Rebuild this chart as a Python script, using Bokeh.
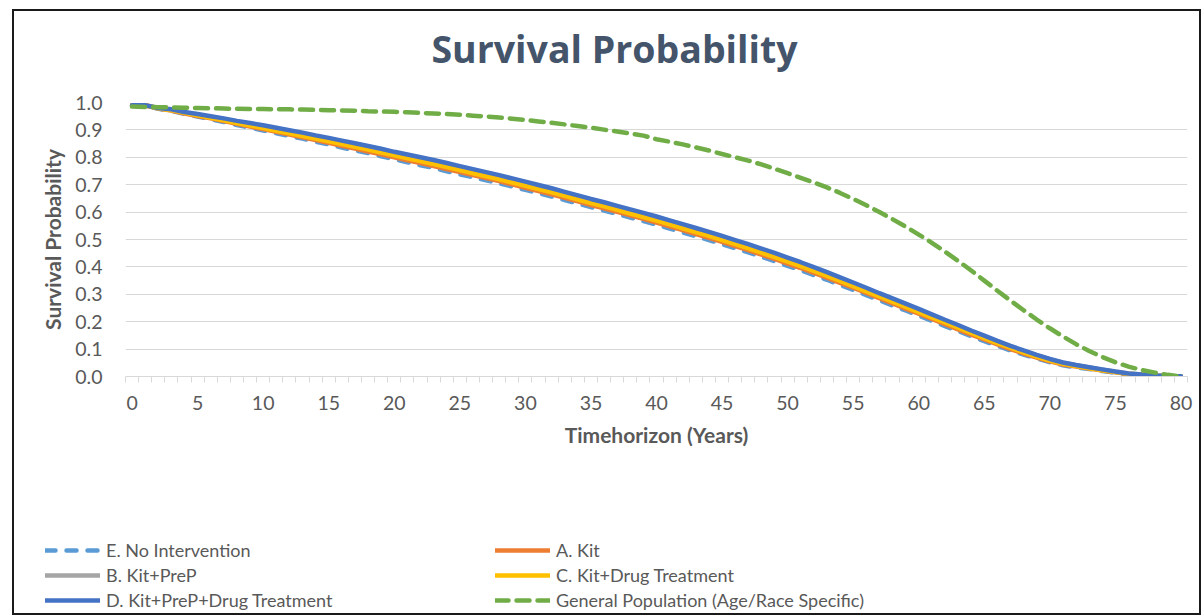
from bokeh.plotting import figure
from bokeh.layouts import column
from bokeh.models import (FixedTicker, NumeralTickFormatter, Legend, LegendItem, Range1d, Label)
from bokeh.embed import file_html
from bokeh.resources import INLINE

years = list(range(0, 81))

no_intervention = [0.99, 0.99, 0.977, 0.970, 0.958, 0.949, 0.939, 0.929, 0.918, 0.908,
    0.898, 0.888, 0.878, 0.868, 0.857, 0.847, 0.836, 0.825, 0.815, 0.804,
    0.793, 0.782, 0.771, 0.761, 0.749, 0.738, 0.727, 0.716, 0.705, 0.693,
    0.681, 0.669, 0.657, 0.644, 0.631, 0.618, 0.606, 0.593, 0.580, 0.567,
    0.554, 0.540, 0.526, 0.512, 0.498, 0.483, 0.468, 0.453, 0.437, 0.421,
    0.404, 0.388, 0.370, 0.353, 0.334, 0.316, 0.297, 0.278, 0.259, 0.241,
    0.222, 0.203, 0.184, 0.166, 0.147, 0.129, 0.112, 0.095, 0.080, 0.066,
    0.052, 0.041, 0.033, 0.027, 0.020, 0.013, 0.008, 0.005, 0.003, 0.001, 0.0]

kit = [0.99, 0.99, 0.978, 0.971, 0.960, 0.951, 0.942, 0.932, 0.922, 0.912,
    0.903, 0.893, 0.883, 0.873, 0.863, 0.853, 0.842, 0.832, 0.821, 0.811,
    0.800, 0.789, 0.779, 0.768, 0.757, 0.746, 0.735, 0.724, 0.713, 0.701,
    0.689, 0.677, 0.665, 0.652, 0.639, 0.626, 0.614, 0.601, 0.588, 0.575,
    0.562, 0.548, 0.534, 0.520, 0.506, 0.491, 0.476, 0.461, 0.445, 0.429,
    0.412, 0.396, 0.378, 0.361, 0.342, 0.324, 0.305, 0.286, 0.267, 0.248,
    0.229, 0.210, 0.191, 0.172, 0.153, 0.135, 0.117, 0.100, 0.084, 0.069,
    0.055, 0.044, 0.036, 0.029, 0.022, 0.015, 0.009, 0.006, 0.003, 0.002, 0.0]

kit_prep = [0.99, 0.99, 0.979, 0.974, 0.963, 0.955, 0.947, 0.939, 0.930, 0.921,
    0.913, 0.904, 0.895, 0.886, 0.876, 0.867, 0.857, 0.847, 0.837, 0.827,
    0.816, 0.806, 0.796, 0.786, 0.775, 0.764, 0.753, 0.742, 0.731, 0.719,
    0.707, 0.695, 0.683, 0.670, 0.657, 0.644, 0.632, 0.619, 0.606, 0.593,
    0.580, 0.566, 0.552, 0.538, 0.524, 0.509, 0.494, 0.479, 0.463, 0.447,
    0.430, 0.413, 0.395, 0.377, 0.358, 0.339, 0.320, 0.300, 0.281, 0.262,
    0.243, 0.223, 0.204, 0.185, 0.165, 0.146, 0.127, 0.109, 0.092, 0.077,
    0.062, 0.050, 0.041, 0.033, 0.025, 0.017, 0.011, 0.007, 0.004, 0.002, 0.001]

kit_drug = [0.99, 0.99, 0.979, 0.972, 0.962, 0.953, 0.944, 0.935, 0.925, 0.916,
    0.907, 0.897, 0.888, 0.878, 0.868, 0.858, 0.848, 0.838, 0.828, 0.817,
    0.807, 0.796, 0.786, 0.775, 0.764, 0.753, 0.742, 0.731, 0.720, 0.708,
    0.696, 0.684, 0.672, 0.659, 0.646, 0.633, 0.621, 0.608, 0.595, 0.582,
    0.569, 0.555, 0.541, 0.527, 0.513, 0.498, 0.483, 0.468, 0.452, 0.436,
    0.419, 0.403, 0.385, 0.367, 0.349, 0.330, 0.311, 0.292, 0.273, 0.254,
    0.235, 0.216, 0.197, 0.178, 0.159, 0.140, 0.122, 0.105, 0.088, 0.073,
    0.058, 0.046, 0.038, 0.030, 0.023, 0.016, 0.010, 0.006, 0.003, 0.002, 0.0]

kit_prep_drug = [0.99, 0.99, 0.980, 0.975, 0.965, 0.958, 0.950, 0.942, 0.933, 0.925,
    0.917, 0.908, 0.899, 0.890, 0.880, 0.871, 0.861, 0.851, 0.841, 0.831,
    0.820, 0.810, 0.800, 0.790, 0.779, 0.768, 0.757, 0.746, 0.735, 0.723,
    0.711, 0.699, 0.687, 0.674, 0.661, 0.648, 0.636, 0.623, 0.610, 0.597,
    0.584, 0.570, 0.556, 0.542, 0.528, 0.513, 0.498, 0.483, 0.467, 0.451,
    0.434, 0.417, 0.399, 0.381, 0.362, 0.343, 0.324, 0.304, 0.285, 0.266,
    0.247, 0.227, 0.207, 0.188, 0.168, 0.149, 0.130, 0.112, 0.095, 0.079,
    0.064, 0.051, 0.042, 0.034, 0.026, 0.018, 0.011, 0.007, 0.004, 0.002, 0.001]

general_pop = [0.985, 0.984, 0.983, 0.982, 0.981, 0.980, 0.979, 0.978, 0.977, 0.976,
    0.976, 0.975, 0.975, 0.974, 0.973, 0.972, 0.971, 0.970, 0.968, 0.967,
    0.966, 0.964, 0.962, 0.960, 0.958, 0.955, 0.952, 0.949, 0.945, 0.941,
    0.936, 0.931, 0.926, 0.920, 0.914, 0.908, 0.901, 0.894, 0.887, 0.879,
    0.866, 0.857, 0.847, 0.836, 0.825, 0.812, 0.800, 0.788, 0.774, 0.758,
    0.742, 0.725, 0.708, 0.690, 0.670, 0.648, 0.625, 0.600, 0.574, 0.547,
    0.518, 0.488, 0.456, 0.422, 0.387, 0.350, 0.313, 0.277, 0.242, 0.208,
    0.176, 0.146, 0.118, 0.093, 0.071, 0.052, 0.036, 0.024, 0.014, 0.006, 0.0]

series_names = ["E. No Intervention", "A. Kit", "B. Kit+PreP", "C. Kit+Drug Treatment",
                "D. Kit+PreP+Drug Treatment", "General Population (Age/Race Specific)"]
series_data = [no_intervention, kit, kit_prep, kit_drug, kit_prep_drug, general_pop]
series_colors = ["#5B9BD5", "#ED7D31", "#A5A5A5", "#FFC000", "#4472C4", "#70AD47"]
series_dash = ["10 11", "solid", "solid", "solid", "solid", "13 8"]
legend_order = [0, 2, 4, 1, 3, 5]   # column-major fill: E,B,D | A,C,General
x_tick_labels = list(range(0, 81, 5))
y_ticks = [0.0, 0.1, 0.2, 0.3, 0.4, 0.5, 0.6, 0.7, 0.8, 0.9, 1.0]
chart_title = "Survival Probability"

TXT = "#595959"
FONT = "Lato"
LW = 4.5
W = 1185

# --- title strip ---
p0 = figure(width=W, height=79, output_backend="svg", toolbar_location=None,
            x_range=Range1d(0, 1), y_range=Range1d(0, 1), min_border=0,
            x_axis_location=None, y_axis_location=None, title=None)
p0.frame_align = False
p0.grid.visible = False
p0.outline_line_color = None
p0.add_layout(Label(x=600, y=42, x_units="screen", y_units="screen", text=chart_title,
                    text_align="center", text_baseline="middle",
                    text_font="Open Sans", text_font_size="37.5px", text_font_style="bold",
                    text_color="#44546A"))

# --- main chart ---
p = figure(width=W, height=376, output_backend="svg", toolbar_location=None, title=None,
           x_range=Range1d(-0.5, 80.5), y_range=Range1d(0, 1.0),
           min_border_left=111, min_border_right=12, min_border_top=12, min_border_bottom=90)
p.frame_align = False
p.outline_line_color = None
p.border_fill_color = "white"
p.background_fill_color = "white"

xa = p.xaxis[0]
xa.ticker = FixedTicker(ticks=x_tick_labels, minor_ticks=[i - 0.5 for i in range(0, 82)])
xa.axis_line_color = "#D9D9D9"
xa.major_tick_line_color = None
xa.major_tick_out = 0
xa.major_tick_in = 0
xa.minor_tick_line_color = "#D9D9D9"
xa.minor_tick_out = 6
xa.minor_tick_in = 0
xa.major_label_text_font = FONT
xa.major_label_text_font_size = "19.5px"
xa.major_label_text_color = TXT
xa.major_label_standoff = 13
xa.axis_label = "Timehorizon (Years)"
xa.axis_label_text_font = FONT
xa.axis_label_text_font_size = "21px"
xa.axis_label_text_font_style = "bold"
xa.axis_label_text_color = TXT
xa.axis_label_standoff = 9

ya = p.yaxis[0]
ya.ticker = FixedTicker(ticks=y_ticks)
ya.formatter = NumeralTickFormatter(format="0.0")
ya.axis_line_color = None
ya.major_tick_line_color = None
ya.minor_tick_line_color = None
ya.major_label_text_font = FONT
ya.major_label_text_font_size = "19.5px"
ya.major_label_text_color = TXT
ya.major_label_standoff = 17
ya.axis_label = "Survival Probability"
ya.axis_label_text_font = FONT
ya.axis_label_text_font_size = "21px"
ya.axis_label_text_font_style = "bold"
ya.axis_label_text_color = TXT
ya.axis_label_standoff = 7

p.xgrid.grid_line_color = None
p.ygrid.grid_line_color = "#D9D9D9"
p.ygrid.grid_line_width = 1

for vals, col, dash in zip(series_data, series_colors, series_dash):
    p.line(years, vals, line_color=col, line_width=LW, line_dash=dash, line_cap="round")

# --- legend strip ---
p2 = figure(width=W, height=147, output_backend="svg", toolbar_location=None, title=None,
            x_range=Range1d(0, 1), y_range=Range1d(0, 1), min_border=0,
            x_axis_location=None, y_axis_location=None)
p2.frame_align = False
p2.grid.visible = False
p2.outline_line_color = None
p2.border_fill_color = "white"

swatches = []
for name, col, dash in zip(series_names, series_colors, series_dash):
    r = p2.line(x=[0, 1], y=[5, 5], line_color=col, line_width=LW, line_dash=dash,
                line_cap="round")
    swatches.append(LegendItem(label=name, renderers=[r]))

legend = Legend(items=[swatches[i] for i in legend_order], ncols=2, location=(31, 2),
                glyph_width=55, glyph_height=20, label_standoff=6, label_width=386,
                spacing=3, padding=0, margin=0, border_line_color=None,
                background_fill_alpha=0,
                label_text_font=FONT, label_text_font_size="18px", label_text_color=TXT)
p2.add_layout(legend, "center")

layout = column(p0, p, p2, spacing=0,
                styles={"border": "2px solid #1a1a1a", "margin-left": "12px", "margin-top": "9px"})

with open("out.html", "w") as f:
    f.write(file_html(layout, INLINE))
